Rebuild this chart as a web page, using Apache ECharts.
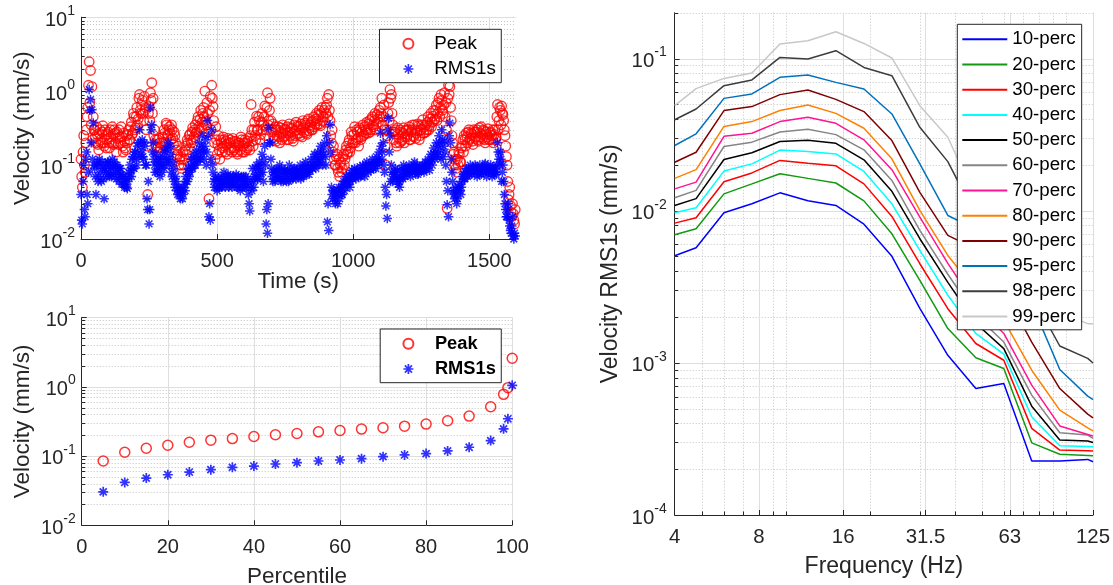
<!DOCTYPE html>
<html><head><meta charset="utf-8">
<script src="https://cdn.jsdelivr.net/npm/echarts@6/dist/echarts.min.js"></script>
<style>html,body{margin:0;padding:0;background:#fff}#c{width:1113px;height:585px}</style>
</head><body><div id="c"></div>
<script>
// ---------------- DATA ----------------
const timeStep = 5; // seconds between samples of each array; B arrays are offset by half a step
const peakTimeA = [0.12,0.05,0.25,0.08,0.3,0.6,2.5,1.9,1.15,0.45,
0.3,0.2,0.26,0.16,0.3,0.2,0.34,0.18,0.25,0.22,
0.28,0.17,0.24,0.33,0.19,0.27,0.15,0.23,0.3,0.2,
0.24,0.15,0.21,0.16,0.2,0.3,0.22,0.38,0.27,0.45,
0.32,0.6,0.42,0.9,0.5,0.75,0.4,0.55,0.3,0.04,
0.62,0.95,1.3,0.8,0.3,0.18,0.22,0.15,0.2,0.14,
0.24,0.3,0.2,0.35,0.26,0.33,0.22,0.3,0.19,0.25,
0.16,0.14,0.1,0.13,0.09,0.15,0.12,0.18,0.22,0.16,
0.26,0.2,0.32,0.24,0.35,0.28,0.45,0.3,0.55,0.38,
0.6,1.0,0.35,0.5,0.035,0.85,1.2,0.62,0.2,0.33,
0.14,0.25,0.12,0.2,0.17,0.22,0.15,0.19,0.23,0.16,
0.2,0.15,0.21,0.17,0.19,0.14,0.2,0.16,0.22,0.18,
0.15,0.2,0.17,0.23,0.16,0.66,0.21,0.3,0.25,0.46,
0.3,0.4,0.26,0.5,0.35,0.63,0.3,0.95,0.4,0.8,
0.28,0.36,0.22,0.3,0.25,0.33,0.2,0.28,0.35,0.24,
0.3,0.22,0.27,0.36,0.25,0.31,0.21,0.29,0.38,0.26,
0.33,0.25,0.3,0.4,0.28,0.35,0.26,0.42,0.32,0.38,
0.3,0.45,0.36,0.5,0.4,0.55,0.34,0.6,0.45,0.38,
0.5,0.8,0.9,0.4,0.2,0.15,0.12,0.1,0.14,0.08,
0.07,0.11,0.09,0.14,0.12,0.18,0.15,0.22,0.17,0.25,
0.2,0.33,0.22,0.28,0.18,0.3,0.24,0.35,0.26,0.3,
0.38,0.27,0.4,0.3,0.45,0.33,0.5,0.36,0.42,0.55,
0.6,0.8,0.45,0.3,0.1,0.25,0.7,1.05,0.9,0.35,
0.22,0.3,0.18,0.26,0.2,0.28,0.22,0.32,0.24,0.3,
0.26,0.33,0.22,0.3,0.25,0.35,0.23,0.29,0.34,0.25,
0.3,0.41,0.27,0.35,0.3,0.45,0.34,0.5,0.38,0.55,
0.42,0.65,0.5,0.8,0.6,0.75,0.5,0.95,0.7,0.026,
1.2,1.15,0.4,0.2,0.15,0.12,0.08,0.1,0.14,0.11,
0.18,0.15,0.22,0.27,0.2,0.3,0.23,0.26,0.19,0.28,
0.24,0.3,0.21,0.27,0.33,0.23,0.29,0.2,0.26,0.31,
0.22,0.28,0.25,0.2,0.3,0.24,0.66,0.4,0.55,0.63,
0.48,0.3,0.18,0.1,0.034,0.05,0.023,0.03,0.018,0.025];
const peakTimeB = [0.07,0.15,0.1,0.2,0.45,1.2,0.7,0.35,0.22,0.3,
0.24,0.33,0.19,0.27,0.22,0.28,0.2,0.3,0.17,0.26,
0.2,0.3,0.2,0.26,0.3,0.2,0.28,0.19,0.24,0.33,
0.18,0.27,0.17,0.25,0.26,0.22,0.33,0.26,0.5,0.3,
0.45,0.35,0.8,0.55,0.65,0.5,0.85,0.6,0.18,0.5,
0.4,0.75,0.5,0.25,0.22,0.15,0.17,0.23,0.17,0.2,
0.2,0.27,0.37,0.25,0.3,0.27,0.35,0.23,0.28,0.2,
0.13,0.18,0.12,0.1,0.12,0.1,0.16,0.14,0.2,0.25,
0.22,0.28,0.22,0.3,0.27,0.4,0.33,0.42,0.32,0.5,
0.45,0.4,0.7,0.28,0.55,0.3,0.8,0.4,0.12,0.22,
0.19,0.16,0.22,0.15,0.24,0.18,0.21,0.14,0.2,0.22,
0.17,0.23,0.16,0.21,0.15,0.2,0.18,0.24,0.15,0.2,
0.22,0.16,0.21,0.18,0.25,0.3,0.18,0.38,0.22,0.3,
0.45,0.22,0.38,0.3,0.45,0.25,0.6,0.35,0.55,0.4,
0.3,0.24,0.33,0.21,0.3,0.24,0.32,0.22,0.27,0.31,
0.25,0.33,0.22,0.28,0.32,0.23,0.35,0.25,0.3,0.34,
0.27,0.36,0.24,0.32,0.37,0.27,0.4,0.29,0.35,0.3,
0.4,0.33,0.42,0.35,0.48,0.36,0.5,0.4,0.55,0.6,
0.65,0.45,0.55,0.25,0.3,0.18,0.1,0.13,0.09,0.12,
0.1,0.08,0.13,0.1,0.16,0.14,0.2,0.15,0.28,0.2,
0.26,0.2,0.3,0.23,0.32,0.22,0.28,0.25,0.33,0.27,
0.3,0.36,0.28,0.42,0.35,0.4,0.3,0.48,0.38,0.45,
0.5,0.35,0.65,0.18,0.3,0.5,0.4,0.8,0.5,0.28,
0.28,0.2,0.32,0.23,0.3,0.21,0.27,0.2,0.29,0.24,
0.3,0.22,0.28,0.35,0.24,0.3,0.27,0.36,0.22,0.3,
0.35,0.27,0.33,0.28,0.38,0.3,0.42,0.33,0.46,0.4,
0.55,0.4,0.7,0.45,0.9,0.55,0.65,0.45,0.3,0.8,
0.9,0.6,0.25,0.14,0.1,0.09,0.12,0.15,0.11,0.17,
0.22,0.25,0.18,0.24,0.28,0.22,0.27,0.21,0.3,0.23,
0.28,0.22,0.32,0.24,0.26,0.3,0.22,0.28,0.24,0.22,
0.27,0.22,0.3,0.26,0.22,0.45,0.3,0.6,0.35,0.5,
0.4,0.25,0.13,0.06,0.04,0.028,0.02,0.022,0.016];
const rmsTimeA = [0.04,0.016,0.1,0.02,0.15,0.03,1.05,0.77,0.56,0.37,
0.09,0.04,0.11,0.07,0.1,0.06,0.09,0.035,0.1,0.07,
0.11,0.07,0.09,0.12,0.075,0.1,0.065,0.085,0.06,0.09,
0.055,0.07,0.05,0.065,0.048,0.08,0.1,0.07,0.13,0.09,
0.15,0.1,0.2,0.3,0.14,0.22,0.12,0.18,0.1,0.025,
0.016,0.6,0.35,0.2,0.1,0.14,0.08,0.12,0.07,0.1,
0.13,0.09,0.17,0.12,0.2,0.1,0.14,0.07,0.09,0.05,
0.06,0.04,0.05,0.035,0.045,0.04,0.055,0.07,0.06,0.09,
0.08,0.12,0.09,0.14,0.1,0.16,0.11,0.2,0.13,0.25,
0.15,0.18,0.1,0.4,0.02,0.018,0.3,0.08,0.05,0.07,
0.045,0.065,0.05,0.07,0.055,0.08,0.05,0.06,0.075,0.055,
0.065,0.05,0.07,0.06,0.075,0.05,0.065,0.045,0.07,0.06,
0.05,0.07,0.055,0.04,0.024,0.06,0.09,0.05,0.075,0.1,
0.065,0.11,0.08,0.14,0.06,0.18,0.016,0.012,0.32,0.2,
0.09,0.06,0.08,0.065,0.09,0.07,0.1,0.06,0.08,0.07,
0.085,0.06,0.075,0.1,0.065,0.08,0.07,0.09,0.065,0.085,
0.075,0.1,0.07,0.09,0.08,0.11,0.075,0.095,0.085,0.12,
0.09,0.11,0.13,0.1,0.15,0.11,0.18,0.12,0.14,0.2,
0.1,0.017,0.013,0.35,0.05,0.035,0.045,0.03,0.04,0.045,
0.035,0.05,0.04,0.06,0.05,0.07,0.055,0.075,0.06,0.085,
0.07,0.09,0.065,0.085,0.07,0.095,0.075,0.1,0.08,0.09,
0.11,0.08,0.1,0.085,0.12,0.09,0.105,0.13,0.1,0.15,
0.27,0.12,0.2,0.08,0.028,0.019,0.43,0.25,0.1,0.06,
0.075,0.09,0.07,0.055,0.05,0.065,0.08,0.1,0.07,0.09,
0.08,0.1,0.07,0.095,0.085,0.11,0.075,0.1,0.08,0.095,
0.085,0.1,0.08,0.11,0.09,0.12,0.085,0.14,0.1,0.17,
0.12,0.2,0.14,0.25,0.16,0.3,0.13,0.21,0.1,0.029,
0.02,0.37,0.12,0.06,0.04,0.05,0.03,0.045,0.055,0.04,
0.06,0.075,0.065,0.09,0.07,0.085,0.1,0.075,0.09,0.08,
0.095,0.07,0.085,0.1,0.075,0.09,0.08,0.105,0.07,0.09,
0.08,0.1,0.07,0.085,0.09,0.075,0.2,0.12,0.15,0.06,
0.1,0.04,0.025,0.02,0.03,0.015,0.012,0.02,0.01,0.011];
const rmsTimeB = [0.018,0.06,0.025,0.12,0.04,0.08,0.55,0.2,0.12,0.1,
0.07,0.1,0.06,0.12,0.08,0.11,0.065,0.09,0.08,0.11,
0.08,0.1,0.07,0.095,0.11,0.08,0.1,0.07,0.09,0.075,
0.07,0.055,0.06,0.05,0.06,0.07,0.085,0.12,0.09,0.15,
0.12,0.18,0.13,0.2,0.16,0.13,0.2,0.1,0.035,0.06,
0.025,0.3,0.15,0.12,0.08,0.11,0.09,0.1,0.12,0.08,
0.1,0.15,0.11,0.16,0.12,0.18,0.08,0.11,0.06,0.07,
0.045,0.05,0.04,0.045,0.035,0.05,0.045,0.06,0.08,0.07,
0.1,0.09,0.12,0.1,0.13,0.12,0.15,0.12,0.18,0.16,
0.12,0.22,0.15,0.25,0.03,0.12,0.1,0.06,0.065,0.05,
0.06,0.05,0.06,0.05,0.065,0.06,0.07,0.065,0.05,0.07,
0.055,0.07,0.055,0.065,0.05,0.07,0.055,0.065,0.05,0.07,
0.06,0.05,0.065,0.03,0.05,0.045,0.06,0.07,0.09,0.065,
0.09,0.07,0.1,0.08,0.12,0.1,0.025,0.03,0.2,0.12,
0.07,0.08,0.06,0.085,0.07,0.08,0.065,0.09,0.06,0.085,
0.07,0.08,0.06,0.085,0.075,0.065,0.09,0.075,0.08,0.07,
0.085,0.065,0.09,0.07,0.1,0.08,0.09,0.075,0.1,0.09,
0.1,0.14,0.09,0.12,0.1,0.13,0.15,0.1,0.17,0.13,
0.25,0.03,0.2,0.15,0.04,0.045,0.035,0.04,0.03,0.05,
0.045,0.04,0.055,0.045,0.06,0.055,0.065,0.05,0.07,0.065,
0.08,0.07,0.085,0.075,0.08,0.07,0.085,0.09,0.07,0.1,
0.09,0.1,0.09,0.1,0.1,0.11,0.09,0.11,0.12,0.11,
0.18,0.15,0.1,0.05,0.04,0.3,0.15,0.06,0.08,0.07,
0.08,0.065,0.085,0.06,0.07,0.09,0.065,0.08,0.085,0.075,
0.09,0.08,0.085,0.08,0.1,0.085,0.09,0.075,0.09,0.085,
0.095,0.085,0.1,0.09,0.105,0.1,0.11,0.12,0.13,0.14,
0.15,0.13,0.18,0.2,0.12,0.22,0.18,0.15,0.06,0.045,
0.25,0.2,0.08,0.045,0.035,0.04,0.035,0.05,0.045,0.05,
0.07,0.065,0.08,0.075,0.09,0.075,0.085,0.09,0.08,0.1,
0.08,0.09,0.075,0.085,0.09,0.08,0.1,0.085,0.09,0.08,
0.09,0.08,0.095,0.075,0.08,0.1,0.15,0.1,0.12,0.08,
0.06,0.03,0.02,0.025,0.018,0.013,0.015,0.011,0.012];

const percentiles = [5,10,15,20,25,30,35,40,45,50,55,60,65,70,75,80,85,90,95,98,99,100];
const peakPerc = [0.0846,0.113,0.129,0.143,0.158,0.169,0.178,0.191,0.202,0.211,0.223,0.233,0.244,0.255,0.269,0.288,0.322,0.376,0.513,0.774,0.967,2.57];
const rmsPerc = [0.0304,0.0415,0.048,0.0536,0.0586,0.0634,0.0685,0.0716,0.0766,0.0801,0.0846,0.0875,0.0915,0.0978,0.1034,0.1081,0.1182,0.1336,0.1668,0.246,0.344,1.045];

const freqHz = [4,4.77,6.0,7.55,9.51,11.97,15.07,18.98,23.89,30.07,37.86,47.66,60.0,75.5,95.1,119.7,125];
const p10 = [0.00506,0.00571,0.00969,0.0111,0.0131,0.01161,0.01082,0.00815,0.00501,0.00228,0.00112,0.000678,0.000731,0.000226,0.000226,0.000232,0.000224];
const p20 = [0.00695,0.0076,0.0129,0.015,0.0175,0.0163,0.0152,0.0116,0.00705,0.00348,0.00168,0.00108,0.000918,0.000298,0.000251,0.000246,0.000245];
const p30 = [0.00828,0.00898,0.0155,0.0177,0.0214,0.0205,0.0197,0.015,0.00916,0.00448,0.00227,0.00134,0.00104,0.000371,0.000267,0.000264,0.000263];
const p40 = [0.00969,0.01045,0.0182,0.0203,0.025,0.0245,0.0236,0.0181,0.0111,0.00548,0.00278,0.00156,0.00114,0.000442,0.000285,0.000282,0.000281];
const p50 = [0.01082,0.012,0.0217,0.024,0.0285,0.029,0.0277,0.0216,0.0134,0.00654,0.00338,0.00182,0.00124,0.000519,0.000311,0.000306,0.0003];
const p60 = [0.01217,0.0136,0.0264,0.0282,0.0329,0.0343,0.0316,0.0251,0.0158,0.00742,0.00382,0.00205,0.00137,0.000613,0.000347,0.000335,0.000319];
const p70 = [0.0139,0.0154,0.0308,0.0323,0.0385,0.0411,0.0375,0.0292,0.0186,0.00907,0.0045,0.00239,0.00156,0.000713,0.000385,0.000338,0.000331];
const p80 = [0.0163,0.0186,0.0358,0.0385,0.0455,0.0495,0.0436,0.0348,0.0219,0.01003,0.00508,0.003,0.0019,0.000894,0.000489,0.000374,0.000357];
const p90 = [0.0208,0.0242,0.0455,0.0483,0.0579,0.0621,0.0539,0.0448,0.0289,0.0132,0.00688,0.00559,0.003,0.00137,0.000678,0.00046,0.000435];
const p95 = [0.0268,0.032,0.0547,0.0585,0.0752,0.0779,0.0697,0.0631,0.0432,0.0203,0.0093,0.00756,0.00437,0.00245,0.000904,0.000604,0.000574];
const p98 = [0.0396,0.0466,0.0663,0.0723,0.1017,0.0992,0.1125,0.0874,0.0771,0.0353,0.021,0.00922,0.0052,0.0028,0.00129,0.00107,0.000998];
const p99 = [0.049,0.0634,0.074,0.0803,0.1245,0.1309,0.15,0.1256,0.1008,0.049,0.0304,0.012,0.00637,0.00348,0.00215,0.00181,0.00181];
const percSeriesNames = ['10-perc','20-perc','30-perc','40-perc','50-perc','60-perc','70-perc','80-perc','90-perc','95-perc','98-perc','99-perc'];
const percSeriesValues = [p10,p20,p30,p40,p50,p60,p70,p80,p90,p95,p98,p99];
const percSeriesColors = ['#0000ff','#119a11','#ff0000','#00ffff','#000000','#858585','#ff1493','#ff8000','#7f0000','#0072bd','#3c3c3c','#c8c8c8'];

const freqTickValues = [4,8,16,31.5,63,125];
const freqTickLabels = ['4','8','16','31.5','63','125'];

// ---------------- STYLE HELPERS ----------------
const FONT = '"Liberation Sans", Arial, Helvetica, sans-serif';
const TXT = '#262626';
const STAR = 'path://M-1,-0.16L1,-0.16L1,0.16L-1,0.16Z M-0.16,-1L0.16,-1L0.16,1L-0.16,1Z M-0.594,-0.82L0.82,0.594L0.594,0.82L-0.82,-0.594Z M-0.82,0.594L0.594,-0.82L0.82,-0.594L-0.594,0.82Z';
const STARB = 'path://M-1,-0.17L1,-0.17L1,0.17L-1,0.17Z M-0.17,-1L0.17,-1L0.17,1L-0.17,1Z M-0.587,-0.827L0.827,0.587L0.587,0.827L-0.827,-0.587Z M-0.827,0.587L0.587,-0.827L0.827,-0.587L-0.587,0.827Z';

function supFmt(v){ const e = Math.round(Math.log10(v)); return '{b|10}{s|' + e + '}'; }
function richY(fs){ return {
  b:{fontSize:fs, fontFamily:FONT, color:TXT, lineHeight:26, verticalAlign:'bottom'},
  s:{fontSize:14, fontFamily:FONT, color:TXT, lineHeight:14, verticalAlign:'top'} }; }
function plainFmt(v){ return String(v); }

function decades(lo, hi){ const out=[]; for(let e=lo;e<=hi;e++) out.push(Math.pow(10,e)); return out; }
function minors(lo, hi, maxV){ const out=[]; for(let e=lo;e<=hi;e++){ for(let k=2;k<=9;k++){ const v=k*Math.pow(10,e); if(maxV==null||v<=maxV*1.0001) out.push(+v.toPrecision(3)); } } return out; }

function decor(gi, xMin, yMin, spec){
  const items = [];
  (spec.hMajor||[]).forEach(v=>items.push({k:'h',M:true,x:xMin,y:v}));
  (spec.hMinor||[]).forEach(v=>items.push({k:'h',M:false,x:xMin,y:v}));
  (spec.vMajor||[]).forEach(v=>items.push({k:'v',M:true,x:v,y:yMin}));
  (spec.vMinor||[]).forEach(v=>items.push({k:'v',M:false,x:v,y:yMin}));
  (spec.xLab||[]).forEach((v,i)=>items.push({k:'t',x:v,y:yMin,text:spec.xLabText[i]}));
  return {
    type:'custom', xAxisIndex:gi, yAxisIndex:gi, z:1, silent:true, clip:false, animation:false,
    data: items.map(it=>[it.x,it.y]),
    renderItem(params, api){
      const it = items[params.dataIndex];
      const cs = params.coordSys;
      const p = api.coord([it.x, it.y]);
      const L = cs.x, R = cs.x+cs.width, T = cs.y, B = cs.y+cs.height;
      const ch = [];
      const gridStyle = it.M ? {stroke:'#dedede', lineWidth:1} : {stroke:'#c4c4c4', lineWidth:1, lineDash:[1,2]};
      if (it.k==='h'){
        const y = Math.round(p[1])+0.5;
        ch.push({type:'line', shape:{x1:L,y1:y,x2:R,y2:y}, style:gridStyle});
        ch.push({type:'line', shape:{x1:L,y1:y,x2:L+(it.M?5:3.5),y2:y}, style:{stroke:TXT,lineWidth:1}});
      } else if (it.k==='v'){
        const x = Math.round(p[0])+0.5;
        ch.push({type:'line', shape:{x1:x,y1:T,x2:x,y2:B}, style:gridStyle});
        ch.push({type:'line', shape:{x1:x,y1:B,x2:x,y2:B-(it.M?5:3.5)}, style:{stroke:TXT,lineWidth:1}});
      } else {
        ch.push({type:'text', x:p[0], y:B+22.5, style:{text:it.text, fontSize:20.4, fontFamily:FONT, fill:TXT, align:'center', verticalAlign:'middle'}});
      }
      return {type:'group', children:ch};
    }
  };
}

function xAxisBase(gi, extra){ return Object.assign({
  gridIndex:gi, axisLine:{show:true, onZero:false, lineStyle:{color:TXT, width:1}},
  axisTick:{show:false}, splitLine:{show:false}, minorTick:{show:false}, minorSplitLine:{show:false},
  nameLocation:'middle', nameMoveOverlap:false,
  nameTextStyle:{fontSize:22.5, color:TXT, fontFamily:FONT},
  axisLabel:{fontSize:20, color:TXT, fontFamily:FONT, margin:12, lineHeight:20, hideOverlap:false, formatter:plainFmt}
}, extra); }
function yAxisBase(gi, extra){ return Object.assign({
  gridIndex:gi, type:'log', logBase:10,
  axisLine:{show:true, onZero:false, lineStyle:{color:TXT, width:1}},
  axisTick:{show:false}, splitLine:{show:false}, minorTick:{show:false}, minorSplitLine:{show:false},
  nameLocation:'middle', nameRotate:90, nameMoveOverlap:false,
  nameTextStyle:{fontSize:22.5, color:TXT, fontFamily:FONT}
}, extra); }

// ---------------- OPTION ----------------
const chart = echarts.init(document.getElementById('c'), null, {renderer:'canvas'});
const timeData = (a, b)=> a.map((v,i)=>[i*timeStep, v]).concat(b.map((v,i)=>[i*timeStep + timeStep/2, v]));

const series = [
  decor(0, 0, 0.01, {hMajor:decades(-1,1), hMinor:minors(-2,0), vMajor:[500,1000,1500]}),
  decor(1, 0, 0.01, {hMajor:decades(-1,1), hMinor:minors(-2,0), vMajor:[20,40,60,80,100]}),
  decor(2, 4, 0.0001, {hMajor:decades(-3,-1), hMinor:minors(-4,-1,0.2),
     vMajor:[8,16,31.5,63,125], vMinor:[5,6,7,9,10,20,30,40,50,60,70,80,90,100],
     xLab:freqTickValues, xLabText:freqTickLabels}),
  {name:'Peak', type:'scatter', xAxisIndex:0, yAxisIndex:0, z:2, symbol:'circle', symbolSize:9.5,
   itemStyle:{color:'rgba(255,255,255,0)', borderColor:'#ff0000', borderWidth:1.35}, data:timeData(peakTimeA, peakTimeB), animation:false, large:false},
  {name:'RMS1s', type:'scatter', xAxisIndex:0, yAxisIndex:0, z:2, symbol:STAR, symbolSize:9.5,
   itemStyle:{color:'#0000ff'}, data:timeData(rmsTimeA, rmsTimeB), animation:false, large:false},
  {name:'Peak', type:'scatter', xAxisIndex:1, yAxisIndex:1, z:2, symbol:'circle', symbolSize:10,
   itemStyle:{color:'rgba(255,255,255,0)', borderColor:'#ff0000', borderWidth:1.5}, data:percentiles.map((p,i)=>[p,peakPerc[i]]), animation:false},
  {name:'RMS1s', type:'scatter', xAxisIndex:1, yAxisIndex:1, z:2, symbol:STARB, symbolSize:10,
   itemStyle:{color:'#0000ff'}, data:percentiles.map((p,i)=>[p,rmsPerc[i]]), animation:false}
];
percSeriesNames.forEach((n,k)=>{
  series.push({name:n, type:'line', xAxisIndex:2, yAxisIndex:2, z:2, symbol:'none', showSymbol:false,
    lineStyle:{color:percSeriesColors[k], width:1.5}, itemStyle:{color:percSeriesColors[k]},
    data:freqHz.map((f,i)=>[f, percSeriesValues[k][i]]), animation:false, clip:true});
});

const legendCommon = {orient:'vertical', backgroundColor:'#fff', borderColor:TXT, borderWidth:1, borderRadius:0,
  selectedMode:false, symbolKeepAspect:true};

const option = {
  animation:false,
  textStyle:{fontFamily:FONT},
  grid:[
    {left:81, top:17.2, width:434.5, height:221.8, containLabel:false, outerBoundsMode:'none'},
    {left:81.7, top:317.3, width:430.5, height:208, containLabel:false, outerBoundsMode:'none'},
    {left:674.7, top:12.7, width:418.3, height:502.3, containLabel:false, outerBoundsMode:'none'}
  ],
  xAxis:[
    xAxisBase(0, {type:'value', min:0, max:1596, interval:500, name:'Time (s)', nameGap:31,
      axisLabel:{fontSize:20, color:TXT, fontFamily:FONT, margin:12, lineHeight:20, showMaxLabel:false, hideOverlap:false, formatter:plainFmt}}),
    xAxisBase(1, {type:'value', min:0, max:100, interval:20, name:'Percentile', nameGap:39.5}),
    xAxisBase(2, {type:'log', logBase:10, min:4, max:125, name:'Frequency (Hz)', nameGap:40, axisLabel:{show:false},
      nameTextStyle:{fontSize:23, color:TXT, fontFamily:FONT}})
  ],
  yAxis:[
    yAxisBase(0, {min:0.01, max:10, name:'Velocity (mm/s)', nameGap:46.5,
      axisLabel:{formatter:supFmt, rich:richY(20), margin:6, hideOverlap:false}}),
    yAxisBase(1, {min:0.01, max:10, name:'Velocity (mm/s)', nameGap:47,
      axisLabel:{formatter:supFmt, rich:richY(20), margin:6, hideOverlap:false}}),
    yAxisBase(2, {min:0.0001, max:0.2, name:'Velocity RMS1s (mm/s)', nameGap:52.5,
      nameTextStyle:{fontSize:23, color:TXT, fontFamily:FONT},
      axisLabel:{formatter:supFmt, rich:richY(20.4), margin:8, showMaxLabel:false, hideOverlap:false}})
  ],
  legend:[
    Object.assign({}, legendCommon, {left:379.5, top:29.3, itemWidth:10, itemHeight:10, itemGap:5.3,
      padding:[4.4,5.5,3.7,22.9], formatter:'{g|}{name}',
      textStyle:{fontSize:18.8, lineHeight:20, color:'#000', fontFamily:FONT, rich:{g:{width:15.8}}},
      data:[{name:'Peak', icon:'circle'},{name:'RMS1s', icon:STAR}]}),
    Object.assign({}, legendCommon, {left:380.2, top:329, itemWidth:10, itemHeight:10, itemGap:5.3,
      padding:[4.7,5.4,3.7,22.2], formatter:'{g|}{name}',
      textStyle:{fontSize:18.3, fontWeight:'bold', lineHeight:20, color:'#000', fontFamily:FONT, rich:{g:{width:16.5}}},
      data:[{name:'Peak', icon:'circle'},{name:'RMS1s', icon:STARB}]}),
    Object.assign({}, legendCommon, {left:957.3, top:24.3, itemWidth:45, itemHeight:2, itemGap:5.2, icon:'rect',
      padding:[5,6,3.3,5], textStyle:{fontSize:18.7, lineHeight:20, color:'#000', fontFamily:FONT},
      data:percSeriesNames})
  ],
  series:series
};
chart.setOption(option);
</script></body></html>
